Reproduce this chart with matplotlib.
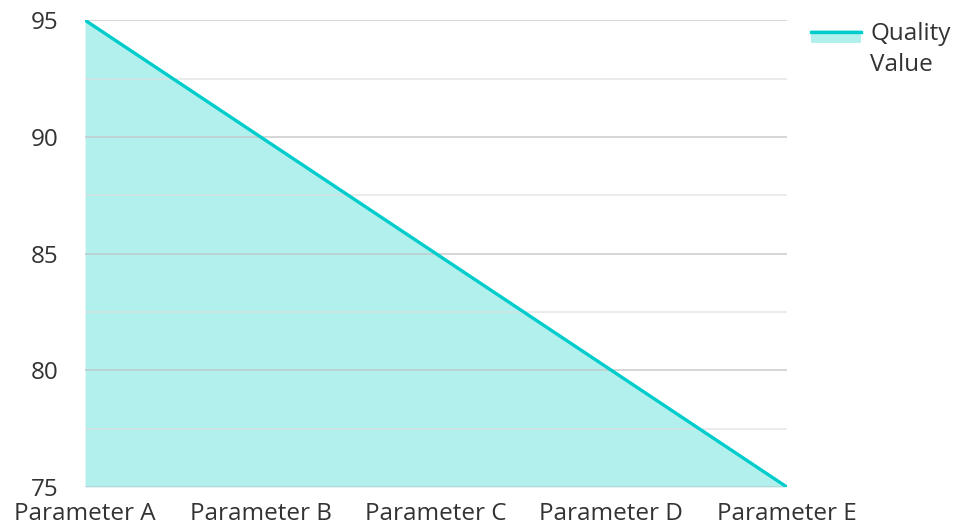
import matplotlib
matplotlib.use("Agg")
import matplotlib.pyplot as plt
from matplotlib.lines import Line2D
from matplotlib.legend_handler import HandlerBase

categories = ["Parameter A", "Parameter B", "Parameter C", "Parameter D", "Parameter E"]
quality = [95, 90, 85, 80, 75]
major_ticks = [75, 80, 85, 90, 95]
minor_ticks = [77.5, 82.5, 87.5, 92.5]

LINE = "#00cccc"
FILL = "#b2f0ee"
TEXT = "#333333"
FS = 17.5

plt.rcParams["font.family"] = ["Open Sans", "DejaVu Sans"]


class AreaHandler(HandlerBase):
    # line on top of a filled patch, like the legend key in the reference
    def create_artists(self, legend, orig, xd, yd, w, h, fontsize, trans):
        top = yd + h + 8
        patch = plt.Rectangle((xd, top - 9.4), w, 9.4,
                              facecolor=FILL, edgecolor="none", transform=trans)
        line = Line2D([xd, xd + w], [top - 1, top - 1],
                      color=LINE, lw=2.4, transform=trans)
        return [patch, line]


fig = plt.figure(figsize=(9.56, 5.28), dpi=100)
ax = fig.add_axes([0.089, 0.0777, 0.734, 0.884])

x = list(range(len(categories)))
ax.fill_between(x, quality, 75, color=FILL, lw=0, zorder=1)
ax.plot(x, quality, color=LINE, lw=2.4, zorder=3, solid_capstyle="round")

ax.set_xlim(0, len(categories) - 1)
ax.set_ylim(75, 95)
ax.set_yticks(major_ticks)
ax.set_yticks(minor_ticks, minor=True)
ax.set_xticks(x)
ax.set_xticklabels(categories)

ax.grid(True, axis="y", which="major", color="#c4c4c4", lw=1.2, alpha=0.8, zorder=2)
ax.grid(True, axis="y", which="minor", color="#dddddd", lw=1.2, alpha=0.7, zorder=2)
ax.set_axisbelow(False)
for s in ax.spines.values():
    s.set_visible(False)

ax.tick_params(axis="y", which="both", length=0, pad=19, labelsize=FS, labelcolor=TEXT)
ax.tick_params(axis="x", length=0, pad=11, labelsize=FS, labelcolor=TEXT)

leg = fig.legend([object()], ["Quality\nValue"], handler_map={object: AreaHandler()},
                 loc="upper left", bbox_to_anchor=(811 / 956, 1 - 22 / 528),
                 frameon=False, fontsize=FS, handlelength=2.06, handletextpad=0.37,
                 borderpad=0, borderaxespad=0, labelcolor=TEXT)
leg.get_texts()[0].set_linespacing(1.38)

fig.savefig("out.png", dpi=100)
